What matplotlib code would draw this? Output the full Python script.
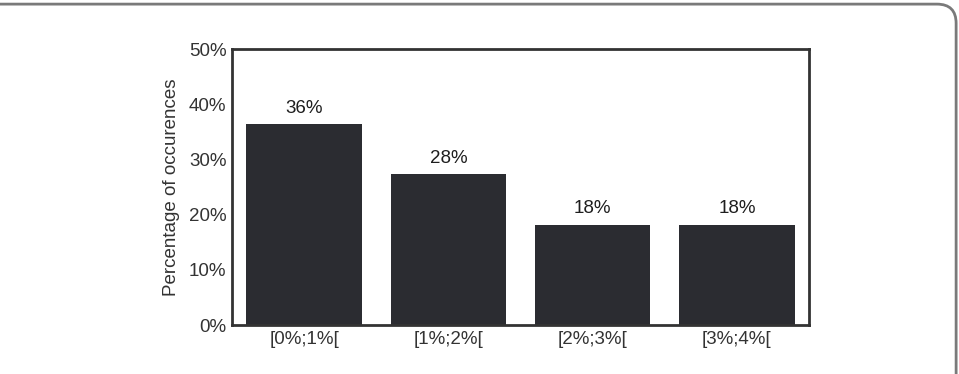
import matplotlib.pyplot as plt
from matplotlib.patches import FancyBboxPatch

categories = ['[0%;1%[', '[1%;2%[', '[2%;3%[', '[3%;4%[']
values = [36.4, 27.4, 18.2, 18.2]
bar_labels = ['36%', '28%', '18%', '18%']
yticks = [0, 10, 20, 30, 40, 50]

plt.rcParams['font.family'] = ['Liberation Sans', 'DejaVu Sans']

fig = plt.figure(figsize=(9.59, 3.74), dpi=100)

# rounded frame around the figure (cropped at left and bottom)
frame = FancyBboxPatch((-0.02, -0.1), 1.017, 1.089, boxstyle='round,pad=0,rounding_size=0.02',
                       transform=fig.transFigure, fill=False, edgecolor='#7a7a7a', linewidth=2,
                       mutation_aspect=959 / 374)
fig.patches.append(frame)

ax = fig.add_axes([232 / 959, 1 - 325 / 374, 577 / 959, 276 / 374])
x = range(len(categories))
ax.bar(x, values, width=0.8, color='#2b2c31')

for i, v in enumerate(values):
    ax.text(i, v + 1.3, bar_labels[i], ha='center', va='bottom', fontsize=13.5,
            color='#1e1e1e', fontweight='medium')

ax.set_xlim(-0.5, 3.5)
ax.set_ylim(0, 50)
ax.set_yticks(yticks)
ax.set_yticklabels([f'{t}%' for t in yticks])
ax.set_xticks(list(x))
ax.set_xticklabels(categories)
ax.tick_params(length=0, labelsize=13.5, labelcolor='#333333', pad=4)
ax.set_ylabel('Percentage of occurences', fontsize=13.5, color='#333333', labelpad=6)
for s in ax.spines.values():
    s.set_linewidth(2)
    s.set_color('#333333')

fig.savefig('out.png', dpi=100)
